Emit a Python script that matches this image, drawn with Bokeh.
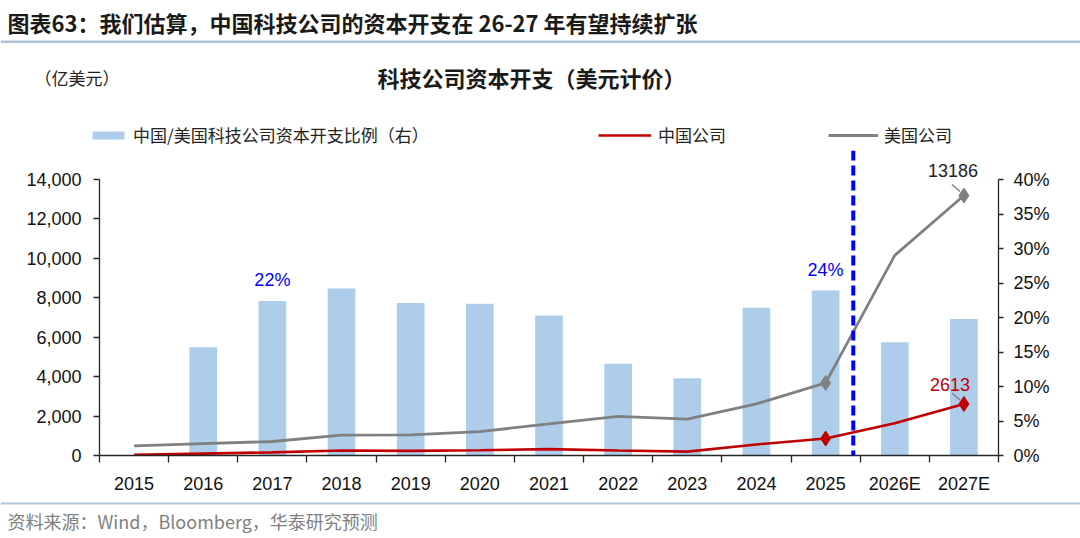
from bokeh.plotting import figure
from bokeh.layouts import column
from bokeh.models import (Range1d, LinearAxis, FixedTicker, NumeralTickFormatter,
                          PrintfTickFormatter, Label, Legend, LegendItem, Span,
                          ColumnDataSource)
from bokeh.embed import file_html
from bokeh.resources import INLINE

# ---------------- data ----------------
years = ["2015", "2016", "2017", "2018", "2019", "2020", "2021",
         "2022", "2023", "2024", "2025", "2026E", "2027E"]
ratio_pct = [float("nan"), 15.7, 22.4, 24.2, 22.1, 22.0, 20.3,
             13.3, 11.2, 21.4, 23.9, 16.4, 19.8]          # 中国/美国 比例 (右轴, %)
china_capex = [30, 95, 160, 250, 235, 268, 325, 255, 195, 560, 860, 1640, 2613]
us_capex = [490, 600, 710, 1030, 1045, 1215, 1600, 1980, 1850, 2620, 3680, 10150, 13186]
left_ticks = [0, 2000, 4000, 6000, 8000, 10000, 12000, 14000]
right_ticks = [0, 5, 10, 15, 20, 25, 30, 35, 40]

title_text = "图表63：我们估算，中国科技公司的资本开支在 26-27 年有望持续扩张"
chart_title = "科技公司资本开支（美元计价）"
unit_text = "（亿美元）"
source_text = "资料来源：Wind，Bloomberg，华泰研究预测"
ratio_name = "中国/美国科技公司资本开支比例（右）"
cn_name = "中国公司"
us_name = "美国公司"

# ---------------- styles ----------------
W = 1080
HEAD_H = 150                        # header panel height (page y 0..150)
MAIN_H = 350                        # main chart panel (page y 150..500)
FOOT_H = 38                         # footer panel (page y 500..538)
FRAME_L = 99
LEFT_MAX, RIGHT_MAX = 14000, 40
FRAME_H = 305                       # frame height (frame extended above 14000)
AX_H = 276                          # px height from 0 to 14000 / 40%
Y_TOP = LEFT_MAX * FRAME_H / AX_H
R_TOP = RIGHT_MAX * FRAME_H / AX_H
PX_X = 899 / 13.0
PX_Y = LEFT_MAX / AX_H
PX_R = RIGHT_MAX / AX_H

BAR_C = "#AECDEA"
RED = "#C00000"
GRAY = "#808080"
BLUE = "#0000FF"
RULE_C = "#B0C4D8"
NUM_FONT = "Liberation Sans"
CJK = "Noto Sans CJK SC"


def blank_fig(h):
    f = figure(width=W, height=h, x_range=Range1d(0, W), y_range=Range1d(0, h),
               x_axis_type=None, y_axis_type=None, output_backend="svg",
               toolbar_location=None, min_border=0, title=None, frame_align=False)
    f.outline_line_color = None
    f.grid.visible = False
    f.background_fill_color = "white"
    f.border_fill_color = "white"
    return f


# ================= header =================
head = blank_fig(HEAD_H)
hy = lambda Y: HEAD_H - Y            # page y -> header data y

head.add_layout(Label(x=7, y=hy(21), text=title_text, text_font=CJK,
                      text_font_style="bold", text_font_size="22px",
                      text_baseline="middle", text_color="#1a1a1a"))
head.quad(left=[0], right=[W], top=[hy(40)], bottom=[hy(42.5)],
          fill_color=RULE_C, line_color=None)
head.add_layout(Label(x=34, y=hy(77), text=unit_text, text_font=CJK,
                      text_font_size="17px", text_baseline="middle",
                      text_color="#222222"))
head.add_layout(Label(x=531, y=hy(76), text=chart_title, text_font=CJK,
                      text_font_style="bold", text_font_size="22px",
                      text_baseline="middle", text_align="center",
                      text_color="#1a1a1a"))

# legend proxies (same styles as the main-chart renderers, placed off-view)
OFF = -1000
pr_bar = head.vbar(x=[OFF], top=[OFF + 1], bottom=[OFF], width=1,
                   fill_color=BAR_C, line_color=None)
pr_cn = head.line(x=[OFF, OFF + 1], y=[OFF, OFF], line_color=RED, line_width=2.6)
pr_us = head.line(x=[OFF, OFF + 1], y=[OFF, OFF], line_color=GRAY, line_width=2.8)


def add_leg(label, rend, X, gw, gh, standoff):
    leg = Legend(items=[LegendItem(label=label, renderers=[rend])],
                 location=(X, hy(147)), orientation="horizontal",
                 padding=0, margin=0, border_line_alpha=0, background_fill_alpha=0,
                 glyph_width=gw, glyph_height=gh, label_standoff=standoff,
                 label_text_font=CJK, label_text_font_size="17px",
                 label_text_color="#222222", label_height=20)
    head.add_layout(leg, "center")


add_leg(ratio_name, pr_bar, 88, 40, 10, 5)
add_leg(cn_name, pr_cn, 598, 53, 20, 7)
add_leg(us_name, pr_us, 828, 50, 20, 6)

# ================= main chart =================
idx = list(range(len(years)))
src = ColumnDataSource(dict(x=idx, ratio=ratio_pct, cn=china_capex, us=us_capex))

p = figure(width=W, height=MAIN_H, x_range=Range1d(-0.5, len(years) - 0.5),
           y_range=Range1d(0, Y_TOP), output_backend="svg", toolbar_location=None,
           min_border_left=FRAME_L, min_border_right=W - 998,
           min_border_top=0, min_border_bottom=MAIN_H - FRAME_H, title=None,
           frame_align=False)
p.outline_line_color = None
p.xgrid.visible = False
p.ygrid.visible = False
p.background_fill_color = "white"
p.border_fill_color = "white"

p.extra_y_ranges = {"pct": Range1d(0, R_TOP)}

bars = p.vbar(x="x", top="ratio", width=0.4, source=src, y_range_name="pct",
              fill_color=BAR_C, line_color=None)
l_cn = p.line("x", "cn", source=src, line_color=RED, line_width=2.6)
l_us = p.line("x", "us", source=src, line_color=GRAY, line_width=2.8)

mk = [years.index("2025"), len(years) - 1]
p.scatter([idx[i] for i in mk], [us_capex[i] for i in mk], marker="diamond",
          size=15, fill_color=GRAY, line_color=GRAY)
p.scatter([idx[i] for i in mk], [china_capex[i] for i in mk], marker="diamond",
          size=15, fill_color=RED, line_color=RED)

# dashed divider between actual and forecast
p.add_layout(Span(location=years.index("2025") + 0.4, dimension="height",
                  line_color=BLUE, line_width=4, line_dash="10 5"))

xa = p.xaxis[0]
xa.ticker = FixedTicker(ticks=idx, minor_ticks=[i - 0.5 for i in range(len(years) + 1)])
xa.major_label_overrides = {i: y for i, y in zip(idx, years)}
xa.major_tick_out = 0
xa.major_tick_in = 0
xa.minor_tick_out = 7
xa.minor_tick_in = 0
xa.minor_tick_line_color = "#262626"
xa.minor_tick_line_width = 1.3
xa.axis_line_color = "#262626"
xa.axis_line_width = 1.3
xa.major_label_standoff = 11
xa.major_label_text_font = NUM_FONT
xa.major_label_text_font_size = "18px"
xa.major_label_text_color = "#111111"

ya = p.yaxis[0]
ya.ticker = FixedTicker(ticks=left_ticks)
ya.bounds = (0, LEFT_MAX)
ya.formatter = NumeralTickFormatter(format="0,0")
ya.major_tick_out = 6
ya.major_tick_in = 0
ya.minor_tick_out = 0
ya.minor_tick_in = 0
ya.axis_line_color = "#262626"
ya.axis_line_width = 1.3
ya.major_tick_line_color = "#262626"
ya.major_tick_line_width = 1.3
ya.major_label_standoff = 12
ya.major_label_text_font = NUM_FONT
ya.major_label_text_font_size = "18px"
ya.major_label_text_color = "#111111"

ra = LinearAxis(y_range_name="pct", ticker=FixedTicker(ticks=right_ticks),
                formatter=PrintfTickFormatter(format="%d%%"), bounds=(0, RIGHT_MAX))
ra.major_tick_out = 5
ra.major_tick_in = 0
ra.minor_tick_out = 0
ra.minor_tick_in = 0
ra.axis_line_color = "#262626"
ra.axis_line_width = 1.3
ra.major_tick_line_color = "#262626"
ra.major_tick_line_width = 1.3
ra.major_label_standoff = 10
ra.major_label_text_font = NUM_FONT
ra.major_label_text_font_size = "18px"
ra.major_label_text_color = "#111111"
p.add_layout(ra, "right")

for yr in ["2017", "2025"]:
    i = years.index(yr)
    p.add_layout(Label(x=i, y=ratio_pct[i] + 21 * PX_R, y_range_name="pct",
                       text=f"{round(ratio_pct[i])}%", text_align="center",
                       text_baseline="middle", text_font=NUM_FONT,
                       text_font_size="18px", text_color=BLUE))

last = len(years) - 1
p.add_layout(Label(x=last - 11 / PX_X, y=us_capex[last] + 25 * PX_Y,
                   text=str(us_capex[last]), text_align="center", text_baseline="middle",
                   text_font=NUM_FONT, text_font_size="18px", text_color="#222222"))
p.add_layout(Label(x=last - 14 / PX_X, y=china_capex[last] + 19 * PX_Y,
                   text=str(china_capex[last]), text_align="center", text_baseline="middle",
                   text_font=NUM_FONT, text_font_size="18px", text_color=RED))
for v in [us_capex[last], china_capex[last]]:
    p.segment(x0=[last - 12 / PX_X], y0=[v + 11 * PX_Y], x1=[last - 4 / PX_X],
              y1=[v + 4 * PX_Y], line_color=GRAY, line_width=1.5)

# ================= footer =================
foot = blank_fig(FOOT_H)
fy = lambda Y: FOOT_H - (Y - (HEAD_H + MAIN_H))   # page y -> footer data y
foot.quad(left=[0], right=[W], top=[fy(502)], bottom=[fy(504)],
          fill_color=RULE_C, line_color=None)
foot.add_layout(Label(x=7, y=fy(520), text=source_text, text_font=CJK,
                      text_font_size="18px", text_baseline="middle",
                      text_color="#7f7f7f"))

layout = column(head, p, foot, spacing=0)
open("out.html", "w").write(file_html(layout, INLINE))
